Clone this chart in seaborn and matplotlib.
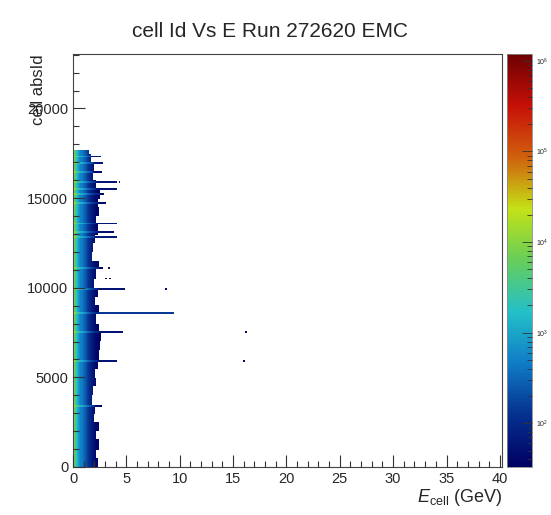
import numpy as np
import seaborn as sns
import matplotlib.pyplot as plt
from matplotlib.colors import LogNorm, LinearSegmentedColormap
from matplotlib.ticker import MultipleLocator

# energy profile of the dense strip: bin centre (GeV) and counts per bin
profile_e = [0.05, 0.15, 0.25, 0.35, 0.45, 0.55, 0.65, 0.75, 0.85, 0.95,
             1.05, 1.15, 1.25, 1.35, 1.45, 1.55, 1.65, 1.75, 1.85, 1.95,
             2.05, 2.15, 2.25, 2.35, 2.45, 2.55]
profile_counts = [11000, 7000, 3200, 2000, 1300, 900, 650, 500, 420, 360,
                  300, 250, 200, 160, 130, 110, 95, 80, 68, 58,
                  50, 45, 40, 37, 35, 34]

# upper energy edge of the strip for every 500 cells (starting at id 0)
band_emax = [2.3, 2.2, 2.4, 2.2, 2.4, 2.0, 2.1, 1.8, 1.9, 2.2,
             2.1, 2.3, 2.4, 2.5, 2.6, 2.4, 2.2, 2.4, 2.1, 2.3,
             2.0, 2.2, 2.4, 1.8, 1.9, 2.1, 2.3, 2.2, 2.4, 2.3,
             2.5, 2.2, 1.9, 2.0, 1.7, 1.5]

# hot cells: cell id, max energy of the tail, tail counts
streak_id = [17340, 16930, 16500, 15860, 15480, 15180, 14700, 13560,
             13100, 12830, 11100, 9890, 8620, 7500, 5880, 3380]
streak_emax = [2.6, 2.8, 2.7, 4.1, 4.1, 2.9, 3.1, 4.1,
               3.8, 4.1, 2.8, 4.9, 9.5, 4.7, 4.1, 2.7]
streak_level = [60, 60, 45, 60, 55, 45, 45, 60,
                50, 70, 40, 55, 150, 60, 60, 40]

# isolated entries
dot_id = [9890, 7520, 5880, 15860, 11100, 10550, 10550]
dot_e = [8.6, 16.1, 15.9, 4.3, 3.3, 3.0, 3.4]
dot_counts = [45, 45, 45, 40, 40, 40, 40]

n_cells = 17664
cell_step = 96
e_step = 0.1

e_edges = np.round(np.arange(0, 40.2 + e_step / 2, e_step), 2)
id_edges = np.arange(0, n_cells + cell_step, cell_step)
e_centers = e_edges[:-1] + e_step / 2
id_centers = id_edges[:-1] + cell_step / 2

xs, ys, ws = [], [], []
for yc in id_centers:
    emax = band_emax[min(int(yc // 500), len(band_emax) - 1)]
    boost = 1.0
    tail = None
    for sid, semax, slev in zip(streak_id, streak_emax, streak_level):
        if abs(yc - sid) <= cell_step / 2:
            boost = 2.5
            tail = (semax, slev)
    for e, c in zip(profile_e, profile_counts):
        if e < emax:
            xs.append(e); ys.append(yc); ws.append(c * boost)
    if tail is not None:
        for e in e_centers:
            if emax <= e < tail[0]:
                xs.append(e); ys.append(yc); ws.append(tail[1])
for did, de, dc in zip(dot_id, dot_e, dot_counts):
    # each isolated entry covers two neighbouring energy bins
    for shift in (0.0, e_step):
        xs.append(de + shift); ys.append(did); ws.append(dc)

# ROOT kRainBow palette
stops = [0.0, 0.125, 0.25, 0.375, 0.5, 0.625, 0.75, 0.875, 1.0]
red = [0, 5, 15, 35, 102, 196, 208, 199, 110]
green = [0, 48, 124, 192, 206, 226, 97, 16, 0]
blue = [99, 142, 198, 201, 90, 22, 13, 8, 2]
cmap = LinearSegmentedColormap.from_list(
    "rainbow_root",
    [(s, (r / 255, g / 255, b / 255)) for s, r, g, b in zip(stops, red, green, blue)])

sns.set_style("white")
plt.rcParams['font.family'] = ['Liberation Sans', 'DejaVu Sans']
plt.rcParams['mathtext.fontset'] = 'custom'
plt.rcParams['mathtext.rm'] = 'Liberation Sans'
plt.rcParams['mathtext.it'] = 'Liberation Sans:italic'
plt.rcParams['axes.axisbelow'] = False

fig = plt.figure(figsize=(5.51, 5.15), dpi=100)
ax = fig.add_axes([73 / 551, 48 / 515, 429 / 551, 413 / 515])
cax = fig.add_axes([507 / 551, 48 / 515, 24.5 / 551, 413 / 515])

sns.histplot(
    x=xs, y=ys, weights=ws,
    bins=[e_edges, id_edges],
    cmap=cmap,
    norm=LogNorm(vmin=33, vmax=1.19e6), vmin=None, vmax=None,
    cbar=True, cbar_ax=cax,
    ax=ax
)
ax.set_axisbelow(False)
cax.set_axisbelow(False)

ax.set_xlim(0, 40.2)
ax.set_ylim(0, 23040)
ax.xaxis.set_major_locator(MultipleLocator(5))
ax.xaxis.set_minor_locator(MultipleLocator(1))
ax.yaxis.set_major_locator(MultipleLocator(5000))
ax.yaxis.set_minor_locator(MultipleLocator(1000))
ax.tick_params(which='both', direction='in', bottom=True, left=True,
               top=False, right=False,
               labelsize=10.5, width=0.8, color='#333333')
ax.tick_params(which='major', length=8.5)
ax.tick_params(which='minor', length=4.3)
for sp in ax.spines.values():
    sp.set_linewidth(0.8)
    sp.set_color('#444444')

ax.set_xlabel(r'$E_{\mathrm{cell}}$ (GeV)', loc='right', fontsize=13)
ax.set_ylabel('cell absId', loc='top', fontsize=12)
ax.yaxis.set_label_coords(-0.062, 1.0)
ax.xaxis.set_label_coords(1.0, -0.048)

cax.yaxis.set_ticks_position('right')
cax.tick_params(which='both', direction='in', right=True, left=False,
                labelsize=5, color='#333333', width=0.6)
cax.tick_params(which='major', length=7)
cax.tick_params(which='minor', length=3.5)
for sp in cax.spines.values():
    sp.set_linewidth(0.6)
    sp.set_color('#888888')

fig.suptitle('cell Id Vs E Run 272620 EMC', fontsize=15, y=0.957, x=0.49)

plt.savefig('out.png', dpi=100)
